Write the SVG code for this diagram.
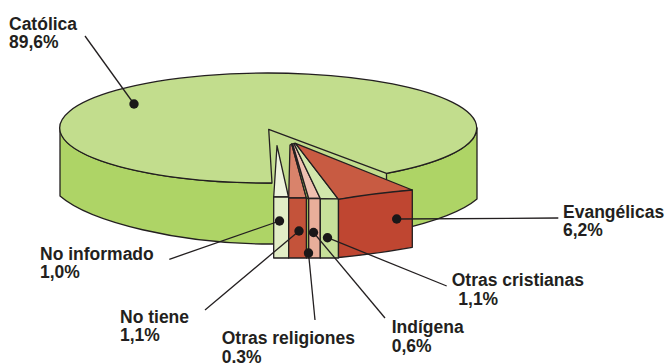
<svg xmlns="http://www.w3.org/2000/svg" width="665" height="364" viewBox="0 0 665 364">
<style>
  .edge { stroke: #231f20; stroke-width: 1.3; stroke-linejoin: round; }
  .lead { stroke: #231f20; stroke-width: 1.3; fill: none; }
  .dot { fill: #1a1718; }
  .lbl { font-family: "Liberation Sans", Arial, sans-serif; font-weight: bold; font-size: 17.5px; fill: #231f20; }
</style>
<rect width="665" height="364" fill="#ffffff"/>

<g id="catolica">
  <path class="edge" fill="#aed466" d="M60,128 L60,196 C90,222 180,244 270,244 C360,244 450,222 477,199 L477,128 A208.5,55 0 0 1 60,128 Z"/>
  <polygon fill="#c2dd8d" points="268.7,129.3 272,183 274,200 386.5,200 386.5,173.3"/>
  <path class="edge" fill="#c2dd8d" d="M268.7,129.3 L272,183 A208.5,55 0 1 1 386.5,173.3 Z"/>
  <line class="edge" x1="386.5" y1="173.3" x2="386.5" y2="181"/>
  <text class="lbl" x="9" y="30">Católica</text>
  <text class="lbl" x="9" y="48">89,6%</text>
</g>

<g id="no-informado">
  <polygon class="edge" fill="#edf3dc" points="277,145.7 273.7,197 288.5,197"/>
  <rect class="edge" fill="#e2edc6" x="273.7" y="197" width="15" height="61"/>
  <text class="lbl" x="40" y="260">No informado</text>
  <text class="lbl" x="40" y="278.3">1,0%</text>
</g>

<g id="no-tiene">
  <polygon class="edge" fill="#d9836b" points="290,145 288.7,198 306.5,198 291.7,144"/>
  <rect class="edge" fill="#c4533a" x="288.7" y="198" width="17.8" height="60"/>
  <text class="lbl" x="120" y="322.7">No tiene</text>
  <text class="lbl" x="120" y="341">1,1%</text>
</g>

<g id="otras-religiones">
  <polygon class="edge" fill="#a9d05f" points="291.7,144 306.5,198.5 308.7,198.5 292.7,144"/>
  <rect class="edge" fill="#a9d05f" x="306.5" y="198.5" width="2.2" height="59.5"/>
  <text class="lbl" x="221.7" y="344.3">Otras religiones</text>
  <text class="lbl" x="221.7" y="362.7">0.3%</text>
</g>

<g id="indigena">
  <polygon class="edge" fill="#efc0b0" points="292.7,144 308.7,198.5 320.3,198.5 294,143.5"/>
  <rect class="edge" fill="#e8ae9a" x="308.7" y="198.5" width="11.6" height="59.5"/>
  <text class="lbl" x="391.7" y="333.3">Indígena</text>
  <text class="lbl" x="391.7" y="351.7">0,6%</text>
</g>

<g id="otras-cristianas">
  <polygon class="edge" fill="#d2e7ac" points="294,143.5 320.3,198.5 338.5,199.3 295.5,143.3"/>
  <rect class="edge" fill="#c7e09a" x="320.3" y="198.8" width="18.2" height="59.2"/>
  <text class="lbl" x="451.7" y="286">Otras cristianas</text>
  <text class="lbl" x="458.3" y="305">1,1%</text>
</g>

<g id="evangelicas">
  <polygon class="edge" fill="#c85b42" points="295.5,143.3 338.5,199.3 412.3,190"/>
  <path class="edge" fill="#bf4631" d="M338.5,199.3 Q376,193 412.3,190 L412.3,247.3 Q376,254 338.5,257.5 Z"/>
  <text class="lbl" x="563" y="217.7">Evangélicas</text>
  <text class="lbl" x="563" y="236">6,2%</text>
</g>

<g id="connectors">
  <line class="lead" x1="85" y1="36" x2="134" y2="104"/>
  <circle class="dot" cx="134" cy="104" r="4.7"/>
  <line class="lead" x1="169.3" y1="259.3" x2="279.5" y2="221"/>
  <circle class="dot" cx="279.5" cy="221" r="4.7"/>
  <line class="lead" x1="205" y1="310" x2="299" y2="231"/>
  <circle class="dot" cx="299" cy="231" r="4.7"/>
  <line class="lead" x1="315" y1="320" x2="308.5" y2="253"/>
  <circle class="dot" cx="308.5" cy="253" r="4.7"/>
  <line class="lead" x1="385" y1="318" x2="313.5" y2="232.5"/>
  <circle class="dot" cx="313.5" cy="232.5" r="4.7"/>
  <line class="lead" x1="446.7" y1="286" x2="327.5" y2="237.7"/>
  <circle class="dot" cx="327.5" cy="237.7" r="4.7"/>
  <line class="lead" x1="558.3" y1="218" x2="396.7" y2="219" stroke="#444" stroke-width="1.6"/>
  <circle class="dot" cx="396.7" cy="219" r="4.7"/>
</g>
</svg>
